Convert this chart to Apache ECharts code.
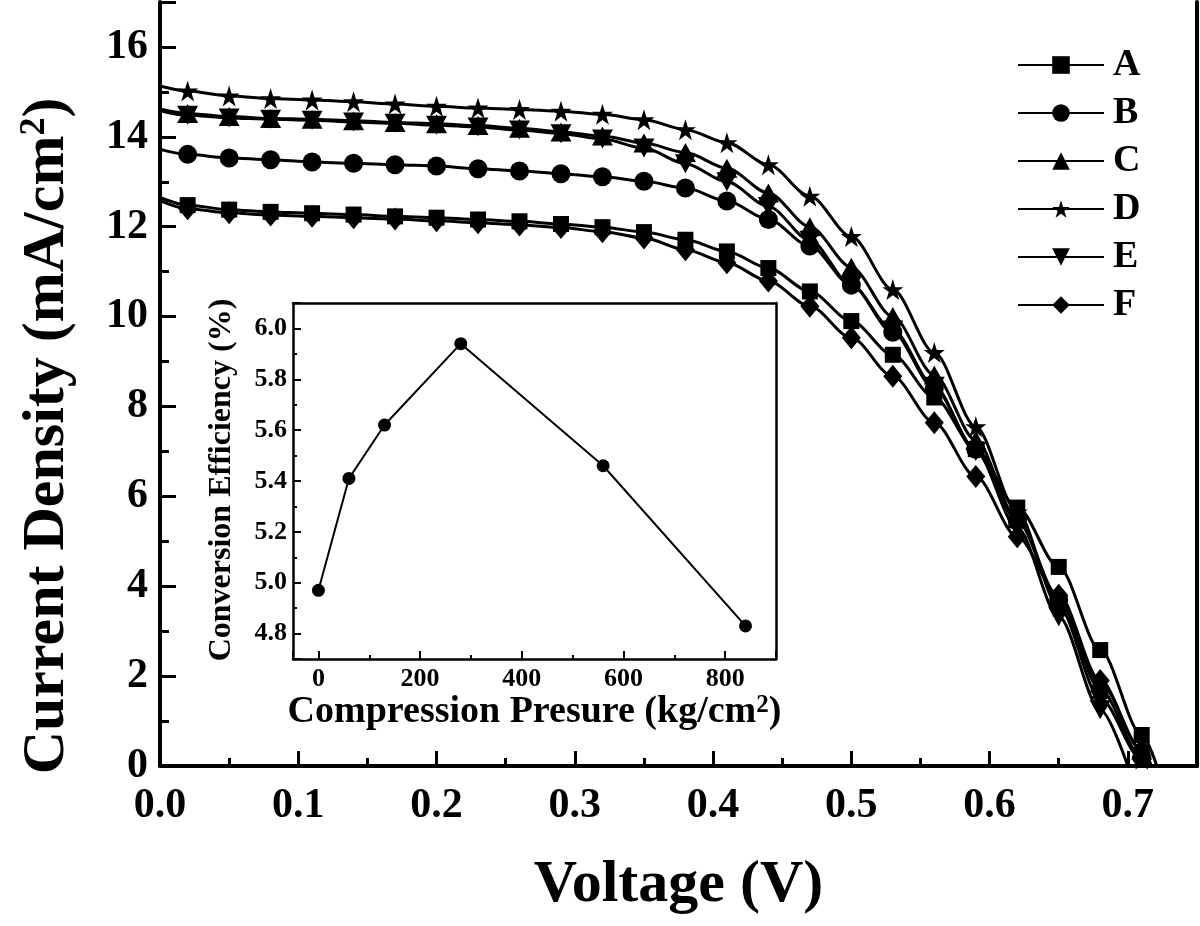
<!DOCTYPE html>
<html><head><meta charset="utf-8">
<script src="https://cdn.jsdelivr.net/npm/echarts@6/dist/echarts.min.js"></script>
<style>html,body{margin:0;padding:0;background:#fff}#c{width:1200px;height:926px}</style>
</head><body><div id="c"></div>
<script>
const FONT = "'Liberation Serif','Times New Roman',serif";

// ---- main chart data (Voltage in V, current density in mA/cm2) ----
const seriesNames = ['A', 'B', 'C', 'D', 'E', 'F'];
const voltage = [0.02, 0.05, 0.08, 0.11, 0.14, 0.17, 0.20, 0.23, 0.26, 0.29, 0.32, 0.35,
                 0.38, 0.41, 0.44, 0.47, 0.50, 0.53, 0.56, 0.59, 0.62, 0.65, 0.68, 0.71];
const curveA = [12.48, 12.38, 12.33, 12.30, 12.27, 12.23, 12.20, 12.16, 12.12, 12.06, 11.99, 11.88,
                11.71, 11.45, 11.08, 10.56, 9.90, 9.15, 8.20, 7.05, 5.75, 4.43, 2.58, 0.69];
const curveB = [13.61, 13.53, 13.49, 13.44, 13.41, 13.38, 13.35, 13.29, 13.24, 13.18, 13.11, 13.01,
                12.86, 12.57, 12.16, 11.57, 10.70, 9.65, 8.40, 7.05, 5.45, 3.70, 1.70, 0.20];
const curveC = [14.52, 14.45, 14.41, 14.39, 14.36, 14.32, 14.29, 14.25, 14.19, 14.11, 14.02, 13.86,
                13.65, 13.30, 12.75, 12.00, 11.10, 10.00, 8.70, 7.25, 5.50, 3.75, 1.85, 0.35];
const curveD = [15.02, 14.91, 14.85, 14.82, 14.78, 14.73, 14.68, 14.64, 14.61, 14.57, 14.50, 14.38,
                14.16, 13.87, 13.38, 12.68, 11.78, 10.60, 9.20, 7.55, 5.65, 3.55, 1.50, 0.15];
const curveE = [14.48, 14.42, 14.39, 14.37, 14.33, 14.30, 14.26, 14.22, 14.15, 14.07, 13.95, 13.75,
                13.40, 13.00, 12.45, 11.70, 10.70, 9.70, 8.45, 7.00, 5.30, 3.32, 1.25, null];
const curveF = [12.40, 12.31, 12.26, 12.23, 12.20, 12.17, 12.13, 12.09, 12.04, 11.98, 11.89, 11.75,
                11.49, 11.20, 10.79, 10.23, 9.53, 8.67, 7.64, 6.44, 5.10, 3.80, 1.90, 0.36];
const shortCircuit = [12.65, 13.72, 14.62, 15.13, 14.58, 12.58];   // J at V = 0
const openCircuit  = [0.721, 0.714, 0.717, 0.713, 0.700, 0.717];   // V at J = 0

// ---- inset data ----
const pressure   = [0, 60, 130, 280, 560, 840];
const efficiency = [4.97, 5.41, 5.62, 5.94, 5.46, 4.83];

const curves = [curveA, curveB, curveC, curveD, curveE, curveF];
const STAR = 'path://M50,2 L61.2,36.5 L97.6,36.5 L68.2,57.9 L79.4,92.5 L50,71.1 L20.6,92.5 L31.8,57.9 L2.4,36.5 L38.8,36.5 Z';
const markerStyles = [
  { symbol: 'rect', size: 16, rotate: 0 },
  { symbol: 'circle', size: 19, rotate: 0 },
  { symbol: 'triangle', size: [21, 19], rotate: 0 },
  { symbol: STAR, size: 21, rotate: 0 },
  { symbol: 'triangle', size: [21, 19], rotate: 180 },
  { symbol: 'diamond', size: [19, 23], rotate: 0 }
];

function buildData(idx) {
  const d = [{ value: [0, shortCircuit[idx]], symbol: 'none' }];
  curves[idx].forEach((j, i) => { if (j !== null) d.push([voltage[i], j]); });
  d.push({ value: [openCircuit[idx], 0], symbol: 'none' });
  return d;
}

const mainSeries = seriesNames.map((name, i) => ({
  name: name,
  type: 'line',
  xAxisIndex: 0, yAxisIndex: 0,
  data: buildData(i),
  symbol: markerStyles[i].symbol,
  symbolSize: markerStyles[i].size,
  symbolRotate: markerStyles[i].rotate,
  showSymbol: true,
  smooth: 0.3,
  smoothMonotone: 'x',
  color: '#000',
  itemStyle: { color: '#000' },
  lineStyle: { color: '#000', width: 3 },
  emphasis: { disabled: true },
  z: 3
}));

const bold = (size) => ({ fontFamily: FONT, fontWeight: 'bold', fontSize: size, color: '#000' });

const option = {
  backgroundColor: '#fff',
  animation: false,
  legend: {
    data: seriesNames,
    orient: 'vertical',
    left: 1017, top: 46, padding: 0,
    itemWidth: 86, itemHeight: 22, itemGap: 10,
    selectedMode: false,
    textStyle: Object.assign(bold(38), { padding: [0, 0, 0, 4] })
  },
  grid: [
    { left: 160, top: 2, right: 3, bottom: 160, show: false },
    { left: 293, top: 303, width: 483, height: 356, show: true, backgroundColor: '#fff', borderWidth: 0, z: 5 }
  ],
  xAxis: [
    {
      type: 'value', gridIndex: 0, min: 0, max: 0.75, interval: 0.1,
      axisLine: { show: true, onZero: false, lineStyle: { color: '#000', width: 4 } },
      axisTick: { show: true, inside: true, length: 15, lineStyle: { color: '#000', width: 3 } },
      minorTick: { show: true, splitNumber: 2, length: 8, lineStyle: { color: '#000', width: 3 } },
      splitLine: { show: false },
      axisLabel: Object.assign(bold(42), { margin: 19, showMaxLabel: false, formatter: v => v.toFixed(1) }),
      name: 'Voltage (V)', nameLocation: 'middle', nameGap: 89,
      nameTextStyle: bold(60)
    },
    {
      type: 'value', gridIndex: 1, min: -50, max: 900, splitNumber: 5,
      axisLine: { show: true, onZero: false, lineStyle: { color: '#000', width: 2.5 } },
      axisTick: { show: true, inside: true, length: 8, lineStyle: { color: '#000', width: 2 } },
      minorTick: { show: true, splitNumber: 2, length: 4, lineStyle: { color: '#000', width: 2 } },
      splitLine: { show: false },
      axisLabel: Object.assign(bold(26), { margin: 7, showMinLabel: false, showMaxLabel: false, formatter: v => String(Math.round(v)) }),
      name: '{n|Compression Presure (kg/cm}{sup|2}{n|)}', nameLocation: 'middle', nameGap: 25,
      nameTextStyle: {
        rich: {
          n: bold(38),
          sup: Object.assign(bold(25), { verticalAlign: 'top', lineHeight: 14 })
        }
      },
      z: 6
    },
    {
      type: 'value', gridIndex: 1, min: -50, max: 900, position: 'top',
      axisLine: { show: true, onZero: false, lineStyle: { color: '#000', width: 2.5 } },
      axisTick: { show: false }, axisLabel: { show: false }, splitLine: { show: false }, z: 6
    }
  ],
  yAxis: [
    {
      type: 'value', gridIndex: 0, min: 0, max: 17, interval: 2,
      axisLine: { show: true, onZero: false, lineStyle: { color: '#000', width: 4 } },
      axisTick: { show: true, inside: true, length: 16, lineStyle: { color: '#000', width: 3 } },
      minorTick: { show: true, splitNumber: 2, length: 9, lineStyle: { color: '#000', width: 3 } },
      splitLine: { show: false },
      axisLabel: Object.assign(bold(42), { margin: 12, showMaxLabel: false })
    },
    {
      type: 'value', gridIndex: 0, min: 0, max: 17, position: 'right',
      axisLine: { show: true, onZero: false, lineStyle: { color: '#000', width: 4 } },
      axisTick: { show: false }, axisLabel: { show: false }, splitLine: { show: false }
    },
    {
      type: 'value', gridIndex: 1, min: 4.7, max: 6.1, splitNumber: 7,
      axisLine: { show: true, onZero: false, lineStyle: { color: '#000', width: 2.5 } },
      axisTick: { show: true, inside: true, length: 8, lineStyle: { color: '#000', width: 2 } },
      minorTick: { show: true, splitNumber: 2, length: 4, lineStyle: { color: '#000', width: 2 } },
      splitLine: { show: false },
      axisLabel: Object.assign(bold(26), { margin: 6, showMinLabel: false, showMaxLabel: false, formatter: v => v.toFixed(1) }),
      z: 6
    },
    {
      type: 'value', gridIndex: 1, min: 4.7, max: 6.1, position: 'right',
      axisLine: { show: true, onZero: false, lineStyle: { color: '#000', width: 2.5 } },
      axisTick: { show: false }, axisLabel: { show: false }, splitLine: { show: false }, z: 6
    }
  ],
  graphic: [
    {
      type: 'text', x: 47, y: 436, rotation: Math.PI / 2, z: 10,
      style: {
        text: '{n|Current Density (mA/cm}{sup|2}{n|)}',
        align: 'center', verticalAlign: 'middle',
        rich: {
          n: { fontFamily: FONT, fontWeight: 'bold', fontSize: 60, fill: '#000' },
          sup: { fontFamily: FONT, fontWeight: 'bold', fontSize: 36, fill: '#000', verticalAlign: 'top', lineHeight: 22 }
        }
      }
    },
    {
      type: 'text', x: 222, y: 480, rotation: Math.PI / 2, z: 10,
      style: {
        text: 'Conversion Efficiency (%)',
        align: 'center', verticalAlign: 'middle',
        font: "bold 32px 'Liberation Serif', serif", fill: '#000'
      }
    }
  ],
  series: mainSeries.concat([{
    name: 'Efficiency',
    type: 'line',
    xAxisIndex: 1, yAxisIndex: 2,
    data: pressure.map((p, i) => [p, efficiency[i]]),
    symbol: 'circle', symbolSize: 13,
    color: '#000',
    itemStyle: { color: '#000' },
    lineStyle: { color: '#000', width: 2 },
    emphasis: { disabled: true },
    z: 7
  }])
};

const chart = echarts.init(document.getElementById('c'), null, { renderer: 'canvas' });
chart.setOption(option);
</script>
</body></html>
